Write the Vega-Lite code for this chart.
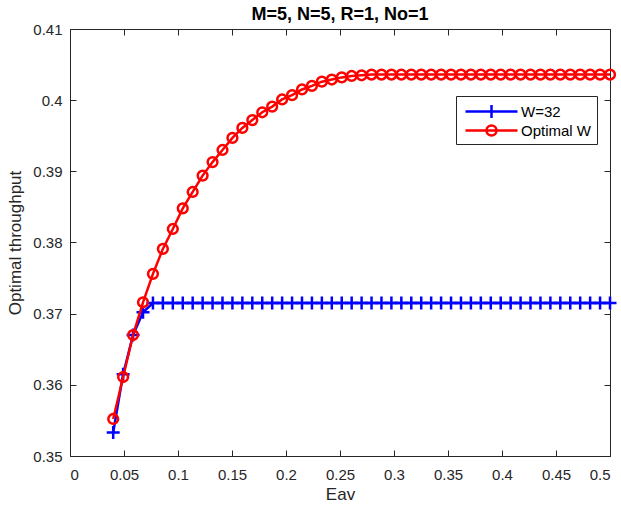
{
  "$schema": "https://vega.github.io/schema/vega-lite/v6.json",
  "width": 540,
  "height": 427,
  "autosize": "none",
  "padding": {"left": 70, "top": 29, "right": 11, "bottom": 52},
  "background": "white",
  "title": {"text": "M=5, N=5, R=1, No=1", "fontSize": 18, "fontWeight": "bold", "color": "#000000", "anchor": "middle", "offset": -2},
  "data": {"values": [
    {"eav": 0.04, "w32": 0.3533, "opt": 0.3552},
    {"eav": 0.0492, "w32": 0.3615, "opt": 0.3611},
    {"eav": 0.0584, "w32": 0.3670, "opt": 0.3670},
    {"eav": 0.0676, "w32": 0.3702, "opt": 0.3716},
    {"eav": 0.0768, "w32": 0.3715, "opt": 0.3756},
    {"eav": 0.086, "w32": 0.3715, "opt": 0.3791},
    {"eav": 0.0952, "w32": 0.3715, "opt": 0.3819},
    {"eav": 0.1044, "w32": 0.3715, "opt": 0.3848},
    {"eav": 0.1136, "w32": 0.3715, "opt": 0.3871},
    {"eav": 0.1228, "w32": 0.3715, "opt": 0.3894},
    {"eav": 0.132, "w32": 0.3715, "opt": 0.3913},
    {"eav": 0.1412, "w32": 0.3715, "opt": 0.3930},
    {"eav": 0.1504, "w32": 0.3715, "opt": 0.3947},
    {"eav": 0.1596, "w32": 0.3715, "opt": 0.3961},
    {"eav": 0.1688, "w32": 0.3715, "opt": 0.3972},
    {"eav": 0.178, "w32": 0.3715, "opt": 0.3983},
    {"eav": 0.1872, "w32": 0.3715, "opt": 0.3991},
    {"eav": 0.1964, "w32": 0.3715, "opt": 0.4001},
    {"eav": 0.2056, "w32": 0.3715, "opt": 0.4007},
    {"eav": 0.2148, "w32": 0.3715, "opt": 0.4015},
    {"eav": 0.224, "w32": 0.3715, "opt": 0.4020},
    {"eav": 0.2332, "w32": 0.3715, "opt": 0.4026},
    {"eav": 0.2424, "w32": 0.3715, "opt": 0.4029},
    {"eav": 0.2516, "w32": 0.3715, "opt": 0.4032},
    {"eav": 0.2608, "w32": 0.3715, "opt": 0.4034},
    {"eav": 0.27, "w32": 0.3715, "opt": 0.4035},
    {"eav": 0.2792, "w32": 0.3715, "opt": 0.4036},
    {"eav": 0.2884, "w32": 0.3715, "opt": 0.4036},
    {"eav": 0.2976, "w32": 0.3715, "opt": 0.4036},
    {"eav": 0.3068, "w32": 0.3715, "opt": 0.4036},
    {"eav": 0.316, "w32": 0.3715, "opt": 0.4036},
    {"eav": 0.3252, "w32": 0.3715, "opt": 0.4036},
    {"eav": 0.3344, "w32": 0.3715, "opt": 0.4036},
    {"eav": 0.3436, "w32": 0.3715, "opt": 0.4036},
    {"eav": 0.3528, "w32": 0.3715, "opt": 0.4036},
    {"eav": 0.362, "w32": 0.3715, "opt": 0.4036},
    {"eav": 0.3712, "w32": 0.3715, "opt": 0.4036},
    {"eav": 0.3804, "w32": 0.3715, "opt": 0.4036},
    {"eav": 0.3896, "w32": 0.3715, "opt": 0.4036},
    {"eav": 0.3988, "w32": 0.3715, "opt": 0.4036},
    {"eav": 0.408, "w32": 0.3715, "opt": 0.4036},
    {"eav": 0.4172, "w32": 0.3715, "opt": 0.4036},
    {"eav": 0.4264, "w32": 0.3715, "opt": 0.4036},
    {"eav": 0.4356, "w32": 0.3715, "opt": 0.4036},
    {"eav": 0.4448, "w32": 0.3715, "opt": 0.4036},
    {"eav": 0.454, "w32": 0.3715, "opt": 0.4036},
    {"eav": 0.4632, "w32": 0.3715, "opt": 0.4036},
    {"eav": 0.4724, "w32": 0.3715, "opt": 0.4036},
    {"eav": 0.4816, "w32": 0.3715, "opt": 0.4036},
    {"eav": 0.4908, "w32": 0.3715, "opt": 0.4036},
    {"eav": 0.5, "w32": 0.3715, "opt": 0.4036}
  ]},
  "layer": [
    {
      "mark": {"type": "line", "color": "#0000ff", "strokeWidth": 2.5},
      "encoding": {
        "x": {"field": "eav", "type": "quantitative", "scale": {"domain": [0, 0.5], "nice": false, "zero": false},
          "axis": {"orient": "bottom", "title": "Eav", "values": [0, 0.05, 0.1, 0.15, 0.2, 0.25, 0.3, 0.35, 0.4, 0.45, 0.5], "format": ".2~f", "labelPadding": 17, "titlePadding": 4}},
        "y": {"field": "w32", "type": "quantitative", "scale": {"domain": [0.35, 0.41], "nice": false, "zero": false},
          "axis": {"orient": "left", "title": "Optimal throughput", "values": [0.35, 0.36, 0.37, 0.38, 0.39, 0.4, 0.41], "format": ".2~f", "labelPadding": 14, "titlePadding": 8}}
      }
    },
    {
      "mark": {"type": "point", "filled": false, "shape": "M-1,0L1,0M0,-1L0,1", "size": 169, "strokeWidth": 2.5, "opacity": 1},
      "encoding": {
        "x": {"field": "eav", "type": "quantitative", "axis": null},
        "y": {"field": "w32", "type": "quantitative", "axis": null},
        "color": {"datum": "W=32", "type": "nominal",
          "scale": {"domain": ["W=32"], "range": ["#0000ff"]},
          "legend": {
            "title": "\u200b\u00a0\u00a0\u00a0\u00a0\u00a0\u00a0\u00a0\u00a0\u00a0\u00a0\u00a0\u00a0\u00a0\u00a0\u00a0\u00a0\u00a0\u00a0\u00a0\u00a0\u00a0\u00a0\u00a0\u00a0\u00a0\u00a0\u00a0\u00a0\u00a0\u00a0\u00a0\u00a0\u00a0\u00a0\u00a0\u00a0\u00a0\u00a0\u00a0\u00a0\u00a0\u00a0\u00a0\u00a0\u00a0\u00a0\u00a0\u00a0\u00a0\u00a0\u00a0\u00a0\u00a0\u00a0\u00a0\u00a0\u200b",
            "titleOrient": "bottom", "titleFontSize": 8, "titlePadding": 5, "titleLimit": 400,
            "orient": "none", "legendX": 386, "legendY": 67, "direction": "vertical",
            "strokeColor": "#262626", "padding": 8, "cornerRadius": 0,
            "labelFontSize": 15, "labelColor": "#000000", "labelFont": "Liberation Sans",
            "symbolSize": 100, "symbolStrokeWidth": 2.5, "labelOffset": 42, "rowPadding": 0,
            "symbolType": "M-1.2,0L9.2,0M4,-1.3L4,1.3"
          }}
      }
    },
    {
      "mark": {"type": "line", "color": "#ff0000", "strokeWidth": 2.5},
      "encoding": {
        "x": {"field": "eav", "type": "quantitative", "axis": null},
        "y": {"field": "opt", "type": "quantitative", "axis": null}
      }
    },
    {
      "mark": {"type": "point", "filled": false, "shape": "circle", "size": 95, "strokeWidth": 2.5, "opacity": 1},
      "encoding": {
        "x": {"field": "eav", "type": "quantitative", "axis": null},
        "y": {"field": "opt", "type": "quantitative", "axis": null},
        "stroke": {"datum": "Optimal W", "type": "nominal",
          "scale": {"domain": ["Optimal W"], "range": ["#ff0000"]},
          "legend": {
            "title": null, "orient": "none", "legendX": 386, "legendY": 86, "direction": "vertical",
            "padding": 8,
            "labelFontSize": 15, "labelColor": "#000000", "labelFont": "Liberation Sans",
            "symbolSize": 100, "symbolStrokeWidth": 2.5, "labelOffset": 42, "rowPadding": 0,
            "symbolType": "M-1.2,0L9.2,0M5,0A1,1 0 1,1 3,0A1,1 0 1,1 5,0"
          }}
      }
    },
    {
      "mark": {"type": "point", "opacity": 0},
      "encoding": {
        "x": {"field": "eav", "type": "quantitative",
          "axis": {"orient": "top", "title": null, "labels": false, "values": [0, 0.05, 0.1, 0.15, 0.2, 0.25, 0.3, 0.35, 0.4, 0.45, 0.5]}},
        "y": {"field": "opt", "type": "quantitative",
          "axis": {"orient": "right", "title": null, "labels": false, "values": [0.35, 0.36, 0.37, 0.38, 0.39, 0.4, 0.41]}}
      }
    }
  ],
  "config": {
    "font": "Liberation Sans",
    "view": {"stroke": "#262626", "strokeWidth": 1},
    "axis": {"grid": false, "domain": false, "tickColor": "#262626", "tickSize": -6, "tickWidth": 1,
      "labelColor": "#262626", "titleColor": "#262626", "labelFontSize": 15, "titleFontSize": 17, "titleFontWeight": "normal", "labelFont": "Liberation Sans", "titleFont": "Liberation Sans"}
  }
}
